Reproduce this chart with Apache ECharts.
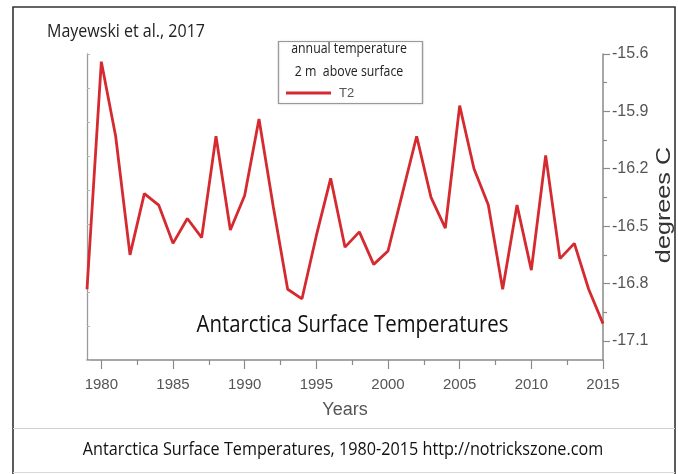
<!DOCTYPE html>
<html>
<head>
<meta charset="utf-8">
<script src="https://cdn.jsdelivr.net/npm/echarts@6/dist/echarts.min.js"></script>
<style>
html,body{margin:0;padding:0;background:#fff;}
#chart{width:678px;height:474px;}
</style>
</head>
<body>
<div id="chart"></div>
<script>
const years = [1979,1980,1981,1982,1983,1984,1985,1986,1987,1988,1989,1990,1991,1992,1993,1994,1995,1996,1997,1998,1999,2000,2001,2002,2003,2004,2005,2006,2007,2008,2009,2010,2011,2012,2013,2014,2015];
const t2 = [-16.83,-15.64,-16.03,-16.65,-16.33,-16.39,-16.59,-16.46,-16.56,-16.03,-16.52,-16.34,-15.94,-16.40,-16.83,-16.88,-16.55,-16.25,-16.61,-16.53,-16.70,-16.63,-16.33,-16.03,-16.35,-16.51,-15.87,-16.20,-16.39,-16.83,-16.39,-16.73,-16.13,-16.67,-16.59,-16.83,-17.01];
const xTickYears = [1980,1985,1990,1995,2000,2005,2010,2015];
const xMinorTicks = [1982.5,1987.5,1992.5,1997.5,2002.5,2007.5,2012.5];
const yTickValues = [-15.6,-15.9,-16.2,-16.5,-16.8,-17.1];
const yMinorTicks = [-15.75,-16.05,-16.35,-16.65,-16.95];

const chart = echarts.init(document.getElementById('chart'), null, {renderer:'canvas'});
const axisGray = '#8a8a8a';
const labelGray = '#555';
const lineRed = '#d52a30';
const humanist = '"Open Sans", "Noto Sans", sans-serif';
const arial = '"Liberation Sans", Arial, sans-serif';

const option = {
  backgroundColor: '#fff',
  animation: false,
  grid: {left: 87, right: 75, top: 54, bottom: 114, containLabel: false},
  legend: {
    data: [{name: 'T2', icon: 'rect'}],
    left: 286, top: 86.5, padding: 0,
    itemWidth: 45, itemHeight: 3,
    itemStyle: {color: lineRed},
    textStyle: {fontSize: 13, color: labelGray, fontFamily: arial, padding: [0,0,0,3]}
  },
  xAxis: [
    {
      type: 'value', min: 1979, max: 2015, position: 'bottom',
      axisLine: {show: true, lineStyle: {color: axisGray, width: 1.5}},
      axisTick: {show: true, customValues: xTickYears, length: 9, lineStyle: {color: axisGray, width: 1.2}},
      axisLabel: {customValues: xTickYears, margin: 17, fontSize: 15, color: labelGray, fontFamily: arial,
        formatter: v => String(v)},
      splitLine: {show: false},
      name: 'Years', nameLocation: 'middle', nameGap: 41,
      nameTextStyle: {fontSize: 18, color: labelGray, fontFamily: arial}
    },
    {
      type: 'value', min: 1979, max: 2015, position: 'bottom',
      axisLine: {show: false},
      axisTick: {show: true, customValues: xMinorTicks, length: 5, lineStyle: {color: axisGray, width: 1.2}},
      axisLabel: {show: false},
      splitLine: {show: false}
    }
  ],
  yAxis: [
    {
      type: 'value', min: -17.2, max: -15.6, position: 'right',
      axisLine: {show: true, lineStyle: {color: axisGray, width: 1.5}},
      axisTick: {show: true, customValues: yTickValues, length: 7, lineStyle: {color: axisGray, width: 1.2}},
      axisLabel: {customValues: yTickValues, margin: 9, fontSize: 16, color: labelGray, fontFamily: arial,
        formatter: v => v.toFixed(1)},
      splitLine: {show: false}
    },
    {
      type: 'value', min: -17.2, max: -15.6, position: 'right',
      axisLine: {show: false},
      axisTick: {show: true, customValues: yMinorTicks, length: 4, lineStyle: {color: axisGray, width: 1.2}},
      axisLabel: {show: false},
      splitLine: {show: false}
    },
    {
      type: 'value', min: 0, max: 9, interval: 1, position: 'left',
      axisLine: {show: true, lineStyle: {color: '#9a9a9a', width: 1.3}},
      axisTick: {show: true, inside: true, length: 3, lineStyle: {color: '#b5b5b5'}},
      axisLabel: {show: false},
      splitLine: {show: false}
    }
  ],
  series: [{
    name: 'T2', type: 'line', xAxisIndex: 0, yAxisIndex: 0,
    data: years.map((y, i) => [y, t2[i]]),
    symbol: 'none', showSymbol: false,
    lineStyle: {color: lineRed, width: 2.8},
    itemStyle: {color: lineRed}
  }],
  graphic: [
    {type: 'rect', z: 0, silent: true, shape: {x: 13, y: 7, width: 662, height: 470},
      style: {fill: 'none', stroke: '#333', lineWidth: 1.6}},
    {type: 'line', silent: true, shape: {x1: 13, y1: 428.5, x2: 675, y2: 428.5},
      style: {stroke: '#d0d0d0', lineWidth: 1}},
    {type: 'line', silent: true, shape: {x1: 13, y1: 472.5, x2: 675, y2: 472.5},
      style: {stroke: '#d8d8d8', lineWidth: 1}},
    {type: 'rect', silent: true, z: 1, shape: {x: 278.5, y: 41.5, width: 144, height: 62},
      style: {fill: '#fff', stroke: '#9a9a9a', lineWidth: 1.2, shadowColor: 'rgba(0,0,0,0.15)', shadowBlur: 2}},
    {type: 'text', silent: true, z: 5, x: 47, y: 31.5, scaleX: 0.89, scaleY: 1.05,
      style: {text: 'Mayewski et al., 2017', fontSize: 18, fontFamily: humanist, fill: '#222',
        textAlign: 'left', textVerticalAlign: 'middle'}},
    {type: 'text', silent: true, z: 5, x: 349, y: 48.5, scaleX: 0.85,
      style: {text: 'annual temperature', fontSize: 14.5, fontFamily: humanist, fill: '#222',
        textAlign: 'center', textVerticalAlign: 'middle'}},
    {type: 'text', silent: true, z: 5, x: 349, y: 71.5, scaleX: 0.85,
      style: {text: '2 m  above surface', fontSize: 14.5, fontFamily: humanist, fill: '#222',
        textAlign: 'center', textVerticalAlign: 'middle'}},
    {type: 'text', silent: true, z: 5, x: 352.5, y: 325.5, scaleX: 0.886, scaleY: 1.05,
      style: {text: 'Antarctica Surface Temperatures', fontSize: 23, fontFamily: humanist, fill: '#111',
        textAlign: 'center', textVerticalAlign: 'middle'}},
    {type: 'text', silent: true, z: 5, x: 343, y: 450.5, scaleX: 0.925,
      style: {text: 'Antarctica Surface Temperatures, 1980-2015 http://notrickszone.com', fontSize: 17.5,
        fontFamily: humanist, fill: '#111', textAlign: 'center', textVerticalAlign: 'middle'}},
    {type: 'text', silent: true, z: 5, x: 664, y: 205, rotation: Math.PI / 2, scaleX: 1.2,
      style: {text: 'degrees C', fontSize: 21, fontFamily: arial, fill: '#333',
        textAlign: 'center', textVerticalAlign: 'middle'}}
  ]
};
chart.setOption(option);
</script>
</body>
</html>
